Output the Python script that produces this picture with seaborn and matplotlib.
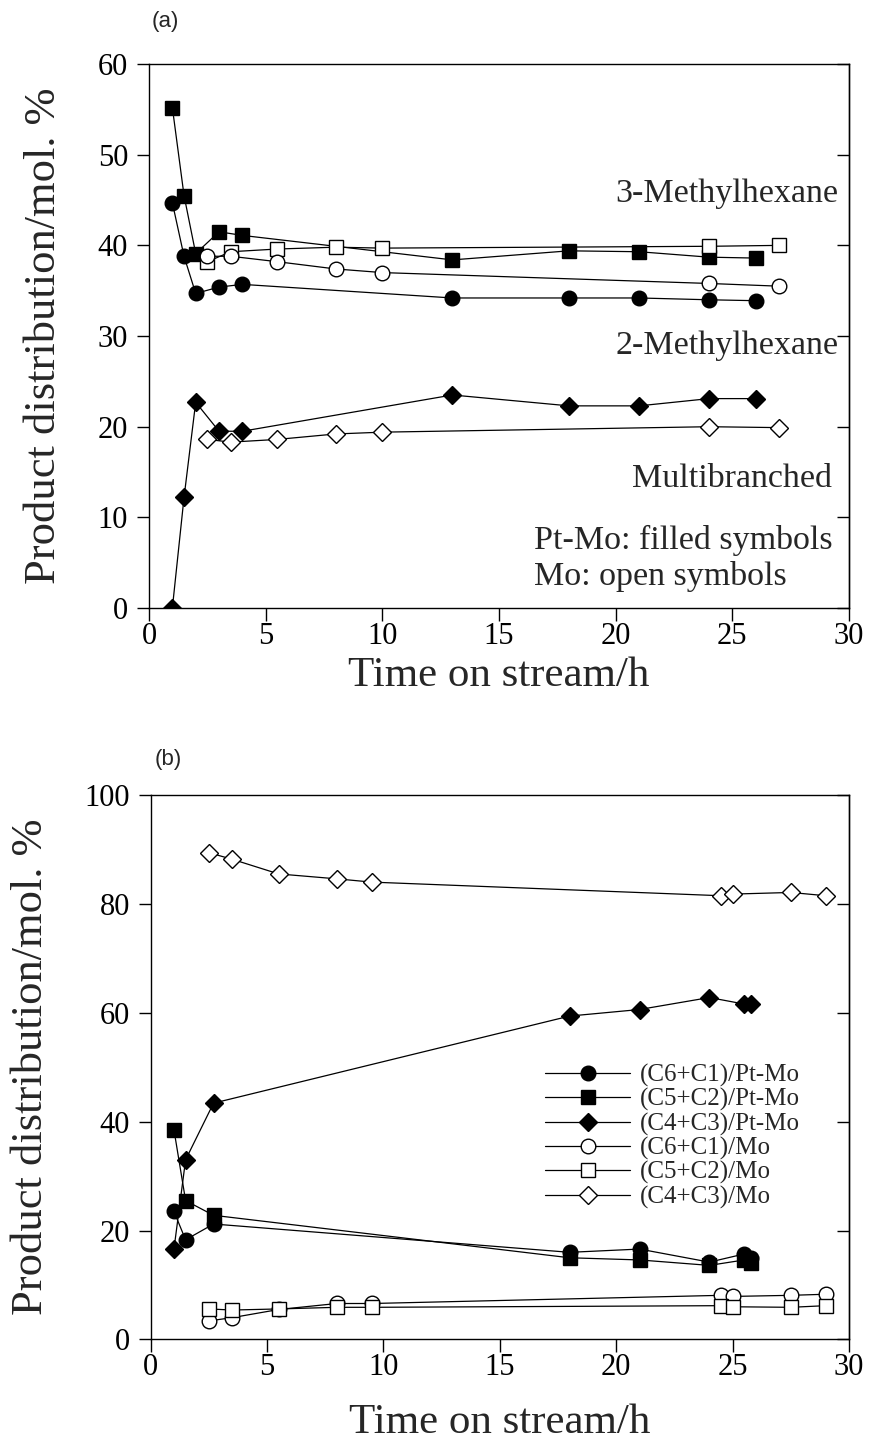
import numpy as np
import pandas as pd
import matplotlib
matplotlib.use("Agg")
import matplotlib.pyplot as plt
import seaborn as sns

# ---------------- Panel (a) data ----------------
a_pt_time = [1, 1.5, 2, 3, 4, 13, 18, 21, 24, 26]
a_pt_3mh = [55.2, 45.5, 39.1, 41.5, 41.1, 38.4, 39.4, 39.3, 38.7, 38.6]
a_pt_2mh = [44.7, 38.8, 34.7, 35.4, 35.7, 34.2, 34.2, 34.2, 34.0, 33.9]
a_pt_multi = [0.0, 12.2, 22.7, 19.5, 19.5, 23.5, 22.3, 22.3, 23.1, 23.1]
a_mo_time = [2.5, 3.5, 5.5, 8, 10, 24, 27]
a_mo_3mh = [38.2, 39.3, 39.6, 39.8, 39.7, 39.9, 40.0]
a_mo_2mh = [38.8, 38.8, 38.2, 37.4, 37.0, 35.8, 35.5]
a_mo_multi = [18.6, 18.3, 18.6, 19.2, 19.4, 20.0, 19.9]

# ---------------- Panel (b) data ----------------
b_pt_time = [1, 1.5, 2.7, 18, 21, 24, 25.5, 25.8]
b_pt_c6c1 = [23.5, 18.3, 21.2, 16.0, 16.6, 14.2, 15.7, 14.9]
b_pt_c5c2 = [38.5, 25.5, 22.8, 15.0, 14.6, 13.6, 14.6, 14.0]
b_pt_c4c3 = [16.6, 33.0, 43.4, 59.4, 60.6, 62.8, 61.6, 61.7]
b_mo_time = [2.5, 3.5, 5.5, 8, 9.5, 24.5, 25, 27.5, 29]
b_mo_c6c1 = [3.4, 4.0, 5.5, 6.6, 6.6, 8.1, 7.9, 8.1, 8.3]
b_mo_c5c2 = [5.6, 5.4, 5.6, 5.9, 5.9, 6.2, 6.0, 5.9, 6.2]
b_mo_c4c3 = [89.4, 88.2, 85.5, 84.6, 84.0, 81.5, 81.8, 82.1, 81.5]

b_labels = ["(C6+C1)/Pt-Mo", "(C5+C2)/Pt-Mo", "(C4+C3)/Pt-Mo",
            "(C6+C1)/Mo", "(C5+C2)/Mo", "(C4+C3)/Mo"]

x_ticks = [0, 5, 10, 15, 20, 25, 30]
a_yticks = [0, 10, 20, 30, 40, 50, 60]
b_yticks = [0, 20, 40, 60, 80, 100]

xlabel = "Time on stream/h"
ylabel = "Product distribution/mol. %"

sns.set_theme(style="ticks")
plt.rcParams["font.family"] = ["Liberation Serif", "DejaVu Serif"]

fig = plt.figure(figsize=(8.7, 14.46), dpi=100)
ax_a = fig.add_axes([0.1713, 0.5795, 0.8046, 0.3762])
ax_b = fig.add_axes([0.1732, 0.0737, 0.8027, 0.3765])

MS = 10.5
LW = 0.9


def series(ax, x, y, marker, filled, label=None, ms=MS):
    sns.lineplot(x=x, y=y, ax=ax, color="black", lw=LW, marker=marker,
                 markersize=ms, markerfacecolor="black" if filled else "white",
                 markeredgecolor="black", markeredgewidth=1.0,
                 label=label, legend=False, sort=False, zorder=3)


# Panel (a)
series(ax_a, a_pt_time, a_pt_3mh, "s", True)
series(ax_a, a_pt_time, a_pt_2mh, "o", True)
series(ax_a, a_pt_time, a_pt_multi, "D", True, ms=9)
series(ax_a, a_mo_time, a_mo_3mh, "s", False)
series(ax_a, a_mo_time, a_mo_2mh, "o", False)
series(ax_a, a_mo_time, a_mo_multi, "D", False, ms=9)

# Panel (b)
series(ax_b, b_pt_time, b_pt_c6c1, "o", True, b_labels[0])
series(ax_b, b_pt_time, b_pt_c5c2, "s", True, b_labels[1])
series(ax_b, b_pt_time, b_pt_c4c3, "D", True, b_labels[2], ms=9)
series(ax_b, b_mo_time, b_mo_c6c1, "o", False, b_labels[3])
series(ax_b, b_mo_time, b_mo_c5c2, "s", False, b_labels[4])
series(ax_b, b_mo_time, b_mo_c4c3, "D", False, b_labels[5], ms=9)

for ax, yt, xpad in ((ax_a, a_yticks, 4), (ax_b, b_yticks, 15)):
    ax.set_xlim(0, 30)
    ax.set_ylim(yt[0], yt[-1])
    ax.set_xticks(x_ticks)
    ax.set_yticks(yt)
    ax.set_xticklabels([str(v) for v in x_ticks])
    ax.set_yticklabels([str(v) for v in yt])
    for s in ax.spines.values():
        s.set_visible(True)
        s.set_linewidth(1.0)
        s.set_color("black")
    ax.tick_params(axis="x", which="major", direction="out", length=9,
                   width=1.0, labelsize=22, colors="black", pad=1)
    ax.tick_params(axis="y", which="major", direction="out", length=9,
                   width=1.0, labelsize=22, colors="black", pad=6)
    ax.set_xlabel(xlabel, fontsize=31, labelpad=xpad)
    ax.set_ylabel(ylabel, fontsize=32, labelpad=24)
    ax.grid(False)
    ax.set_facecolor("white")
    # inward ticks on the right-hand frame
    sec = ax.secondary_yaxis("right")
    sec.set_yticks(yt)
    sec.tick_params(axis="y", direction="in", length=9, width=1.0,
                    labelright=False, colors="black")
    sec.spines["right"].set_linewidth(1.0)

# annotations (a)
ann_kw = dict(transform=ax_a.transAxes, fontsize=24.5, ha="right", va="center")
ax_a.text(0.985, 0.762, "3-Methylhexane", **ann_kw)
ax_a.text(0.985, 0.483, "2-Methylhexane", **ann_kw)
ax_a.text(0.975, 0.237, "Multibranched", **ann_kw)
ax_a.text(0.55, 0.124, "Pt-Mo: filled symbols", transform=ax_a.transAxes,
          fontsize=24.5, ha="left", va="center")
ax_a.text(0.55, 0.058, "Mo: open symbols", transform=ax_a.transAxes,
          fontsize=24.5, ha="left", va="center")

# panel labels
fig.text(165 / 870, 1 - 22 / 1446, "(a)", fontsize=16, ha="center", va="center",
         family=["Liberation Sans", "DejaVu Sans"])
fig.text(168 / 870, 1 - 760 / 1446, "(b)", fontsize=16, ha="center", va="center",
         family=["Liberation Sans", "DejaVu Sans"])

leg = ax_b.legend(loc="upper left", bbox_to_anchor=(0.565, 0.506), frameon=False,
                  fontsize=18, handlelength=3.4, handletextpad=0.4,
                  labelspacing=0.05, borderaxespad=0, borderpad=0)

fig.savefig("out.png", dpi=100, facecolor="white")
